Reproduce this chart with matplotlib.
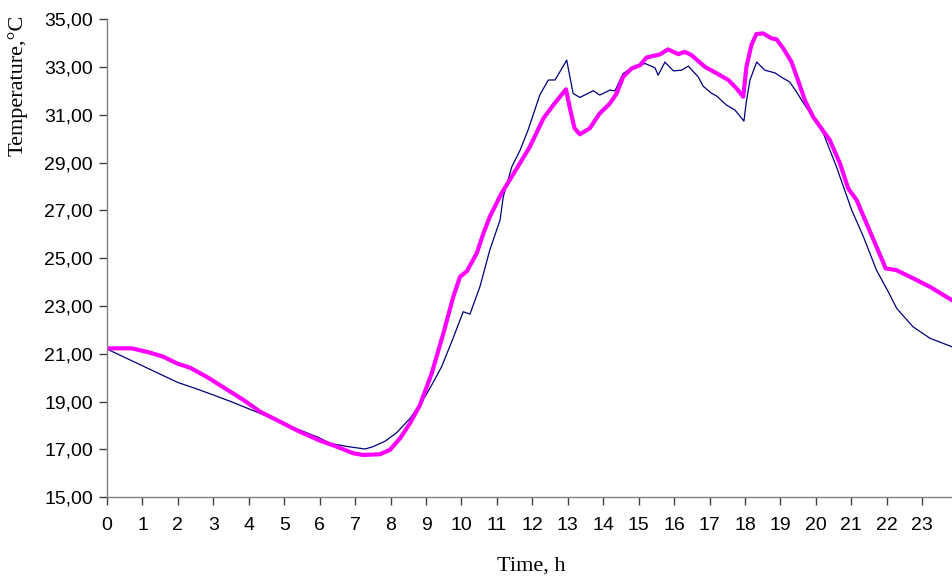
import matplotlib.pyplot as plt

# navy series (thin line)
hours_a = [0.0, 0.5, 1.0, 1.5, 2.0, 2.5, 3.0, 3.5, 4.0, 4.5, 5.0, 5.5, 6.0, 6.29, 6.8,
           7.28, 7.51, 7.85, 8.17, 8.55, 8.97, 9.2, 9.44, 9.75, 10.05, 10.24, 10.52,
           10.8, 11.09, 11.18, 11.42, 11.65, 11.88, 12.21, 12.45, 12.64, 12.78, 12.97,
           13.15, 13.34, 13.72, 13.9, 14.19, 14.33, 14.56, 14.85, 15.18, 15.46, 15.55,
           15.74, 15.98, 16.21, 16.4, 16.68, 16.82, 17.06, 17.2, 17.48, 17.72, 17.97,
           18.03, 18.14, 18.33, 18.56, 18.84, 19.08, 19.26, 19.45, 19.6, 20.21, 20.58,
           21.01, 21.34, 21.71, 22.04, 22.28, 22.74, 23.22, 23.83]
temp_a = [21.2, 20.85, 20.5, 20.15, 19.8, 19.55, 19.28, 19.0, 18.7, 18.4, 18.05, 17.78, 17.48,
          17.26, 17.12, 17.02, 17.12, 17.35, 17.7, 18.3, 19.2, 19.8, 20.46, 21.6, 22.76,
          22.66, 23.8, 25.34, 26.6, 27.57, 28.82, 29.5, 30.36, 31.82, 32.45, 32.45, 32.8,
          33.28, 31.89, 31.72, 32.0, 31.82, 32.03, 31.99, 32.72, 33.0, 33.14, 32.96, 32.65,
          33.2, 32.83, 32.86, 33.03, 32.58, 32.19, 31.89, 31.78, 31.4, 31.19, 30.73,
          31.47, 32.45, 33.2, 32.86, 32.75, 32.52, 32.37, 31.96, 31.6, 30.22, 28.82,
          27.01, 25.9, 24.5, 23.6, 22.9, 22.13, 21.65, 21.3]

# magenta series (thick line)
hours_b = [0.0, 0.7, 1.21, 1.59, 1.97, 2.34, 2.81, 3.38, 3.85, 4.32, 4.79, 5.44, 6.01,
           6.48, 6.95, 7.23, 7.7, 7.98, 8.27, 8.55, 8.83, 9.16, 9.49, 9.77, 9.96, 10.15,
           10.43, 10.62, 10.8, 11.13, 11.56, 11.93, 12.31, 12.59, 12.95, 13.05, 13.19,
           13.34, 13.62, 13.9, 14.19, 14.38, 14.56, 14.8, 15.04, 15.22, 15.6, 15.83,
           16.12, 16.3, 16.49, 16.87, 17.2, 17.53, 17.76, 17.95, 18.04, 18.18, 18.32,
           18.51, 18.75, 18.89, 19.08, 19.31, 19.54, 19.69, 19.92, 20.39, 20.68, 20.91,
           21.15, 21.43, 21.71, 21.97, 22.27, 22.74, 23.22, 23.83]
temp_b = [21.23, 21.23, 21.05, 20.88, 20.6, 20.42, 20.04, 19.51, 19.07, 18.58, 18.23, 17.74,
          17.37, 17.12, 16.84, 16.77, 16.8, 16.98, 17.47, 18.1, 18.86, 20.18, 21.86, 23.39,
          24.22, 24.45, 25.2, 26.04, 26.73, 27.71, 28.75, 29.66, 30.84, 31.4, 32.06, 31.33,
          30.43, 30.18, 30.43, 31.05, 31.47, 31.89, 32.58, 32.93, 33.07, 33.39, 33.52,
          33.73, 33.53, 33.63, 33.49, 33.0, 32.73, 32.45, 32.1, 31.75, 33.0, 33.91, 34.37,
          34.4, 34.19, 34.15, 33.77, 33.21, 32.25, 31.6, 30.91, 29.94, 28.96, 27.92,
          27.43, 26.45, 25.48, 24.57, 24.5, 24.16, 23.8, 23.25]

x_ticks = list(range(0, 24))
y_ticks = [15, 17, 19, 21, 23, 25, 27, 29, 31, 33, 35]

fig = plt.figure(figsize=(9.52, 5.78), dpi=100)
ax = fig.add_axes([0.1124, 0.1396, 0.8876, 0.8275])

ax.plot(hours_a, temp_a, color="#000080", lw=0.9)
ax.plot(hours_b, temp_b, color="#FF00FF", lw=3.0)

ax.set_xlim(0, 23.84)
ax.set_ylim(15, 35)
ax.set_xticks(x_ticks)
ax.set_yticks(y_ticks)
ax.set_yticklabels([("%.2f" % v).replace(".", ",") for v in y_ticks])

for s in ["top", "right"]:
    ax.spines[s].set_visible(False)
for s in ["left", "bottom"]:
    ax.spines[s].set_color("#808080")
    ax.spines[s].set_linewidth(1.0)

ax.tick_params(direction="out", length=6, width=1, color="#404040",
               labelsize=14, pad=4)
ax.tick_params(axis="x", pad=8)
for lab in ax.get_xticklabels() + ax.get_yticklabels():
    lab.set_fontfamily("Liberation Sans")

fig.text(0.019, 1 - 85 / 578, "Temperature,\u00b0C", rotation=90, va="center", ha="center",
         fontsize=16, family="Liberation Serif")
fig.text(0.558, 1 - 566 / 578, "Time, h", ha="center", va="center",
         fontsize=16, family="Liberation Serif")

fig.savefig("out.png", dpi=100)
